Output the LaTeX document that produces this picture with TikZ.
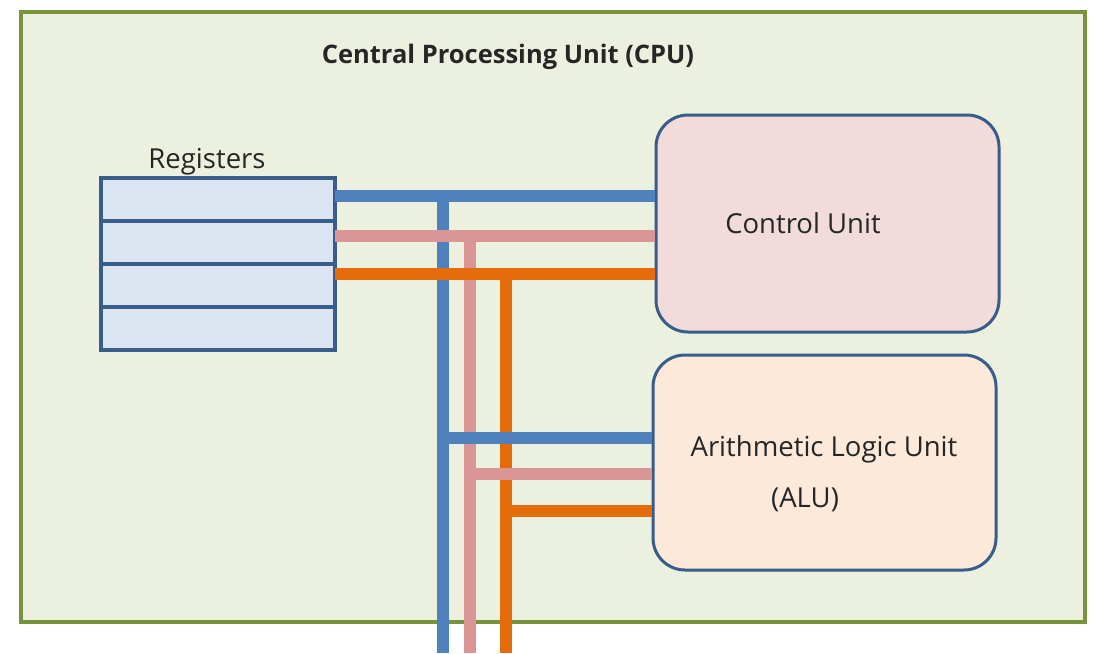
\documentclass[tikz,border=0pt]{standalone}
\usepackage{fontspec}
\setmainfont{Open Sans}
\usetikzlibrary{positioning}

\definecolor{cpuframe}{HTML}{77933C}
\definecolor{cpufill}{HTML}{EBF1DE}
\definecolor{boxline}{HTML}{385D8A}
\definecolor{regfill}{HTML}{DBE5F1}
\definecolor{cufill}{HTML}{F2DCDB}
\definecolor{alufill}{HTML}{FDE9D9}
\definecolor{busblue}{HTML}{4F81BD}
\definecolor{buspink}{HTML}{D99694}
\definecolor{busorange}{HTML}{E46C0A}

\tikzset{
  cpu/.style={draw=cpuframe, fill=cpufill, line width=3.5pt, minimum width=1064pt, minimum height=610pt},
  reg/.style={draw=boxline, fill=regfill, line width=3.5pt, minimum width=234pt, minimum height=43pt, inner sep=0pt, outer sep=0pt},
  unit/.style={draw=boxline, line width=3pt, rounded corners=32pt, minimum width=343pt, inner sep=0pt},
  label/.style={font=\fontsize{27.5}{32}\selectfont, text=black!85, inner sep=0pt},
  bus/.style={line width=12pt},
}

\begin{document}
\begin{tikzpicture}[x=1pt, y=-1pt]
  \useasboundingbox (0,0) rectangle (1094,653);
  \node[cpu] (cpu) at (553,317) {};
  \node[label, font=\bfseries\fontsize{25.5}{30}\selectfont] (title) at (508,57) {Central Processing Unit (CPU)};

  % registers
  \node[reg] (r1) at (218,199.5) {};
  \node[reg, below=0pt of r1] (r2) {};
  \node[reg, below=0pt of r2] (r3) {};
  \node[reg, below=0pt of r3] (r4) {};
  \node[label] (regtext) at (207,162) {Registers};

  % units
  \node[unit, fill=cufill, minimum height=217pt] (cu) at (827.5,223.5) {};
  \node[label] (cutext) at (803,223) {Control Unit};
  \node[unit, fill=alufill, minimum height=215pt] (alu) at (824.5,462.5) {};
  \node[label] (alutext) at (824,449) {Arithmetic Logic Unit};
  \node[label] (alutext2) at (805,500) {(ALU)};

  % bus taps
  \coordinate (btop) at (443,196);
  \coordinate (ptop) at (470,236);
  \coordinate (otop) at (506,274);
  \coordinate (bbot) at (443,653);
  \coordinate (pbot) at (470,653);
  \coordinate (obot) at (506,653);
  \coordinate (balu) at (443,438);
  \coordinate (palu) at (470,474);
  \coordinate (oalu) at (506,511);

  \draw[bus, busblue] (btop) -- (bbot);
  \draw[bus, buspink] (ptop) -- (pbot);
  \draw[bus, busorange] (otop) -- (obot);

  \draw[bus, busblue] (r1.east |- btop) -- (cu.west |- btop);
  \draw[bus, buspink] (r2.east |- ptop) -- (cu.west |- ptop);
  \draw[bus, busorange] (r3.east |- otop) -- (cu.west |- otop);

  \draw[bus, busblue] (balu) -- (alu.west |- balu);
  \draw[bus, buspink] (palu) -- (alu.west |- palu);
  \draw[bus, busorange] (oalu) -- (alu.west |- oalu);
\end{tikzpicture}
\end{document}
